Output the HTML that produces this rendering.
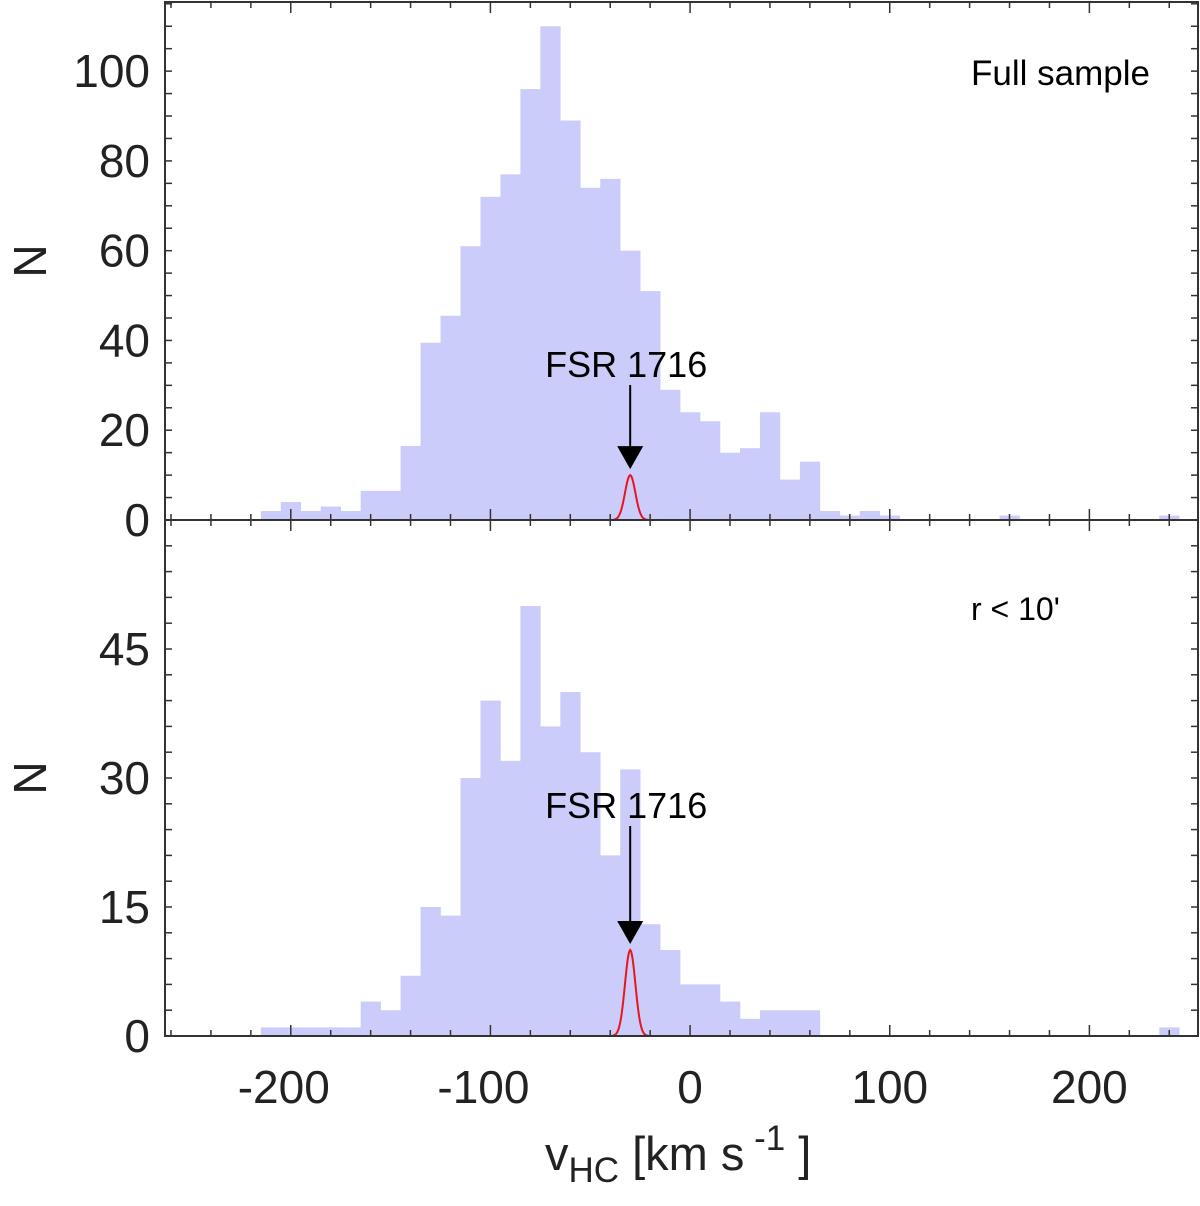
<!DOCTYPE html>
<html><head><meta charset="utf-8"><style>
html,body{margin:0;padding:0;background:#fff;}
svg{display:block;font-family:"Liberation Sans",sans-serif;}
</style></head><body>
<svg id="chart" width="1200" height="1206" viewBox="0 0 1200 1206"></svg>
<script>
const binCenters = [-210,-200,-190,-180,-170,-160,-150,-140,-130,-120,-110,-100,-90,-80,-70,-60,-50,-40,-30,-20,-10,0,10,20,30,40,50,60,70,80,90,100,110,120,130,140,150,160,170,180,190,200,210,220,230,240];
const fullCounts = [2,4,2,3,2,6.5,6.5,16.5,39.5,45.5,61,72,77,96,110,89,74,76,60,51,29,24,22,15,16,24,9,13,2,1,2,1,0,0,0,0,0,1,0,0,0,0,0,0,0,1];
const innerCounts = [1,1,1,1,1,4,3,7,15,14,30,39,32,50,36,40,33,21,31,13,10,6,6,4,2,3,3,3,0,0,0,0,0,0,0,0,0,0,0,0,0,0,0,0,0,1];
const topYTicks = [0,20,40,60,80,100];
const botYTicks = [0,15,30,45];
const xTicks = [-200,-100,0,100,200];
const clusterV = -30, clusterAmp = 10, clusterSigma = 2.6;
const binWidth = 10;

const svg = document.getElementById('chart');
const NS = 'http://www.w3.org/2000/svg';
const X0 = 165, X1 = 1198, VMIN = -263, VMAX = 254.4;
const xs = v => X0 + (v - VMIN) / (VMAX - VMIN) * (X1 - X0);
const panels = [
  {name:'full-sample', top:2, bot:520, max:115.4, counts:fullCounts, ticks:topYTicks, minor:5, label:'Full sample', labelSize:35, labelY:85, fsrY:377},
  {name:'inner-sample', top:520, bot:1036, max:60, counts:innerCounts, ticks:botYTicks, minor:3, label:"r < 10'", labelSize:32, labelY:620, fsrY:818}
];
function mk(tag, attrs, parent){const e=document.createElementNS(NS,tag);for(const k in attrs)e.setAttribute(k,attrs[k]);(parent||svg).appendChild(e);return e;}

panels.forEach(p=>{
  const g = mk('g',{});
  
  
  const ys = c => p.bot - c/p.max*(p.bot-p.top);
  binCenters.forEach((c,i)=>{
    const n = p.counts[i]; if(!n) return;
    const r = mk('rect',{x:xs(c-binWidth/2), y:ys(n), width:xs(c+binWidth/2)-xs(c-binWidth/2)+0.3, height:p.bot-ys(n), fill:'#ccccfa'}, g);
    
    
  });
  let d='';
  for(let v=VMIN; v<=VMAX; v+=0.5){
    const y = clusterAmp*Math.exp(-0.5*Math.pow((v-clusterV)/clusterSigma,2));
    d += (d?'L':'M') + xs(v).toFixed(2)+','+ys(y).toFixed(2);
  }
  const gl = mk('path',{d:d, fill:'none', stroke:'#e8141e', 'stroke-width':2}, g);
  
  
  for(let v=p.minor; v<p.max; v+=p.minor){
    mk('line',{x1:X0,x2:X0+7,y1:ys(v),y2:ys(v),stroke:'#333','stroke-width':1.5},g);
    mk('line',{x1:X1-7,x2:X1,y1:ys(v),y2:ys(v),stroke:'#333','stroke-width':1.5},g);
  }
  p.ticks.forEach(v=>{
    const t = mk('text',{x:150,y:ys(v)+16,'text-anchor':'end','font-size':46,fill:'#222'},g);
    t.textContent = v;
    
    
  });
  for(let v=-260; v<=VMAX; v+=20){
    const L = (v%100===0)?11:6;
    mk('line',{x1:xs(v),x2:xs(v),y1:p.bot,y2:p.bot-L,stroke:'#333','stroke-width':1.5},g);
    mk('line',{x1:xs(v),x2:xs(v),y1:p.top,y2:p.top+L,stroke:'#333','stroke-width':1.5},g);
  }
  const yt = mk('text',{x:0,y:0,'font-size':46,fill:'#222','text-anchor':'middle',transform:`translate(46,${(p.top+p.bot)/2}) rotate(-90)`},g);
  yt.textContent='N';
  
  
  const lb = mk('text',{x:971,y:p.labelY,'font-size':p.labelSize,fill:'#000'},g);
  lb.textContent=p.label;
  
  
  const fx = xs(clusterV);
  const ft = mk('text',{x:fx-4,y:p.fsrY,'font-size':36,'text-anchor':'middle',fill:'#000'},g);
  ft.textContent='FSR 1716';
  
  
  const tip = ys(clusterAmp)-6;
  const ar = mk('g',{},g);
  
  
  mk('line',{x1:fx,x2:fx,y1:p.fsrY+8,y2:tip-20,stroke:'#000','stroke-width':2},ar);
  mk('polygon',{points:`${fx-13},${tip-23} ${fx+13},${tip-23} ${fx},${tip}`,fill:'#000'},ar);
  mk('rect',{x:X0,y:p.top,width:X1-X0,height:p.bot-p.top,fill:'none',stroke:'#333','stroke-width':2},g);
});
xTicks.forEach(v=>{
  const t = mk('text',{x:xs(v)-(v<0?7:0),y:1103,'text-anchor':'middle','font-size':46,fill:'#222'});
  t.textContent = v;
  
  
});
const xt = mk('text',{x:545,y:1170,'font-size':47,fill:'#222'});
xt.innerHTML = 'v<tspan font-size="35" dy="12">HC</tspan><tspan dy="-12"> [km s</tspan><tspan font-size="35" dy="-20"> -1</tspan><tspan dy="20">  ]</tspan>';


</script>
</body></html>
